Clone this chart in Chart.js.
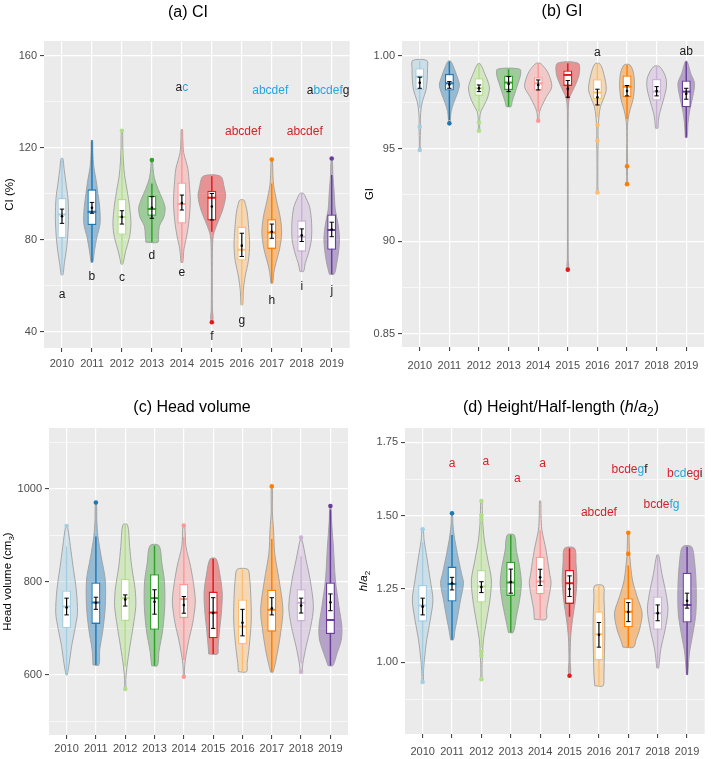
<!DOCTYPE html>
<html>
<head>
<meta charset="utf-8">
<title>Violin plots by year</title>
<style>
  html, body { margin: 0; padding: 0; background: #fff; }
  #wrap { position: relative; width: 711px; height: 759px; overflow: hidden; }
  #wrap canvas { position: absolute; }
</style>
<script src="https://cdn.jsdelivr.net/npm/chart.js@4.4.1/dist/chart.umd.min.js"></script>
</head>
<body>
<div id="wrap">
  <canvas id="ci" width="356" height="380" style="left:0;top:0;width:356px;height:380px"></canvas>
  <canvas id="gi" width="356" height="380" style="left:355px;top:0;width:356px;height:380px"></canvas>
  <canvas id="hv" width="356" height="379" style="left:0;top:380px;width:356px;height:379px"></canvas>
  <canvas id="ha" width="356" height="379" style="left:355px;top:380px;width:356px;height:379px"></canvas>
</div>
<script>
(function () {
  'use strict';

  // ── Shared categories / palette ───────────────────────────────────────────
  var YEARS  = ['2010', '2011', '2012', '2013', '2014', '2015', '2016', '2017', '2018', '2019'];
  var COLORS = ['#A6CEE3', '#1F78B4', '#B2DF8A', '#33A02C', '#FB9A99',
                '#E31A1C', '#FDBF6F', '#FF7F00', '#CAB2D6', '#6A3D9A'];
  var INK  = '#1A1A1A';
  var RED  = '#D2232A';
  var CYAN = '#22A7E0';

  // ── (a) CI ────────────────────────────────────────────────────────────────
  // violin outline: [value, half width in category units], bottom to top
  var CI_VIOLIN = [
    [[64.8,0.03],[70,0.08],[76,0.15],[83,0.2],[90,0.22],[98,0.2],[105,0.13],[111,0.07],[115.4,0.03]],
    [[70.3,0.03],[75,0.08],[81,0.16],[87,0.27],[94,0.26],[100,0.2],[105,0.15],[112,0.06],[118,0.03],[123.3,0.02]],
    [[69.5,0.03],[75,0.12],[81,0.25],[87,0.3],[94,0.26],[101,0.18],[108,0.09],[114,0.05],[120,0.03],[127,0.02]],
    [[79,0.2],[82,0.22],[86,0.25],[90,0.4],[94,0.44],[97.5,0.36],[102,0.21],[107,0.08],[111,0.04],[114.7,0.02]],
    [[70.2,0.03],[76,0.07],[83,0.18],[90,0.25],[97,0.28],[104,0.25],[111,0.2],[118,0.06],[124,0.03],[128,0.02]],
    [[44.2,0.02],[46.5,0.04],[49,0.02],[60,0.015],[75,0.02],[82,0.05],[87,0.18],[93,0.36],[99,0.46],[103,0.41],[107.7,0.29]],
    [[51.8,0.03],[58,0.05],[64,0.11],[71,0.22],[78,0.26],[85,0.23],[92,0.18],[95.5,0.12],[97.3,0.07]],
    [[61.2,0.03],[66,0.07],[70,0.14],[76,0.26],[83,0.33],[90,0.28],[97,0.16],[104,0.06],[108,0.04],[114.5,0.02]],
    [[66.3,0.06],[70,0.12],[74,0.22],[80,0.32],[87,0.33],[94,0.27],[98,0.15],[100.2,0.06]],
    [[65.1,0.08],[70,0.17],[76,0.24],[81,0.26],[87,0.21],[93,0.12],[101,0.08],[108,0.04],[114.5,0.02]]
  ];
  // [whisker low, q1, median, q3, whisker high]
  var CI_BOX = [
    [64.8, 80.7, 91, 98.3, 115.4], [70.3, 86.5, 92.3, 102, 123.3], [69.5, 82.2, 90, 97.8, 119],
    [79, 90.5, 93.4, 99.2, 104.5], [70.2, 87.1, 95.6, 105, 128], [83.6, 88.4, 98.3, 101.4, 107.7],
    [51.8, 71, 75.7, 85.8, 97.3], [61.2, 76.1, 83.2, 89, 104.5], [66.3, 74.9, 81.4, 88.5, 100.2],
    [65.1, 75.7, 84.3, 91.1, 108.2]
  ];
  var CI_MEAN = [90.3, 94, 90, 94, 96, 94.5, 77.5, 83.5, 82, 84.5];
  var CI_SE   = [[87.2,93.4],[91.6,96.3],[86.9,92.7],[89.4,98.8],[93,99.5],[88.7,100.2],[72.8,82.9],[80.7,86.9],[79.3,84.8],[81.4,87.7]];
  var CI_OUT  = [[], [], [127.5], [114.7], [], [44.2], [], [115], [], [115.4]];
  var CI_TICKS  = [40, 60, 80, 100, 120, 140, 160];
  var CI_MAJOR  = [40, 80, 120, 160];
  var CI_LABELS = ['40', '80', '120', '160'];
  var CI_LETTERS   = ['a', 'b', 'c', 'd', 'e', 'f', 'g', 'h', 'i', 'j'];
  var CI_LETTER_Y  = [56.2, 63.8, 63.4, 73.2, 65.8, 37.8, 45, 53.7, 59.5, 58];
  var CI_GROUP_X   = [5, 7.04, 7.95, 9.1, 9.88];
  var CI_GROUP_Y   = [146, 127, 144.7, 127, 144.7];
  var CI_GROUP_TXT = [
    [['a', '', INK], ['c', '', CYAN]],
    [['abcdef', '', RED]],
    [['abcdef', '', CYAN]],
    [['abcdef', '', RED]],
    [['a', '', INK], ['bcdef', '', CYAN], ['g', '', INK]]
  ];

  // ── (b) GI ────────────────────────────────────────────────────────────────
  var GI_VIOLIN = [
    [[0.9492,0.02],[0.953,0.012],[0.961,0.025],[0.966,0.02],[0.972,0.05],[0.976,0.1],[0.9815,0.21],[0.987,0.25],[0.993,0.26],[0.9975,0.24]],
    [[0.9636,0.02],[0.9654,0.03],[0.97,0.06],[0.9744,0.14],[0.9798,0.27],[0.9843,0.34],[0.987,0.3],[0.9924,0.18],[0.997,0.05]],
    [[0.9596,0.02],[0.964,0.02],[0.967,0.03],[0.97,0.06],[0.9726,0.15],[0.978,0.3],[0.9834,0.35],[0.9906,0.19],[0.9957,0.04]],
    [[0.9726,0.08],[0.9753,0.12],[0.9798,0.21],[0.9852,0.32],[0.9895,0.4],[0.9928,0.38]],
    [[0.965,0.02],[0.968,0.03],[0.97,0.05],[0.9726,0.11],[0.978,0.28],[0.9834,0.46],[0.9906,0.34],[0.9945,0.17],[0.996,0.06]],
    [[0.8847,0.02],[0.887,0.03],[0.89,0.015],[0.93,0.012],[0.97,0.015],[0.977,0.05],[0.9807,0.15],[0.9852,0.28],[0.9906,0.39],[0.996,0.35]],
    [[0.9263,0.02],[0.93,0.015],[0.945,0.015],[0.954,0.025],[0.96,0.02],[0.967,0.05],[0.9726,0.1],[0.9762,0.19],[0.982,0.3],[0.9906,0.21],[0.9957,0.08]],
    [[0.9308,0.02],[0.935,0.012],[0.94,0.02],[0.95,0.012],[0.962,0.015],[0.966,0.04],[0.9708,0.1],[0.9762,0.2],[0.9834,0.25],[0.9906,0.22],[0.9951,0.1]],
    [[0.961,0.04],[0.965,0.06],[0.969,0.1],[0.9762,0.23],[0.9834,0.33],[0.9888,0.3],[0.9942,0.1]],
    [[0.956,0.03],[0.9636,0.06],[0.9708,0.12],[0.978,0.22],[0.9852,0.28],[0.9906,0.15],[0.997,0.03]]
  ];
  var GI_BOX = [
    [0.9717, 0.9816, 0.9888, 0.9933, 0.9975], [0.9654, 0.9813, 0.9852, 0.9903, 0.997],
    [0.97, 0.9784, 0.9825, 0.9879, 0.9957], [0.9726, 0.9816, 0.9856, 0.9894, 0.9928],
    [0.97, 0.9813, 0.9852, 0.9885, 0.996], [0.977, 0.9838, 0.9897, 0.9921, 0.996],
    [0.967, 0.9766, 0.9802, 0.9874, 0.9957], [0.966, 0.9777, 0.9834, 0.9894, 0.9951],
    [0.961, 0.9759, 0.9807, 0.9876, 0.9942], [0.956, 0.9723, 0.9807, 0.9867, 0.997]
  ];
  var GI_MEAN = [0.9855, 0.9845, 0.9825, 0.9848, 0.9843, 0.9822, 0.9777, 0.981, 0.981, 0.9795];
  var GI_SE   = [[0.9825,0.9885],[0.9825,0.9861],[0.9807,0.9843],[0.9807,0.9888],[0.9816,0.987],
                 [0.9777,0.9867],[0.9735,0.982],[0.9784,0.984],[0.9784,0.9834],[0.9766,0.9825]];
  var GI_OUT  = [[0.9618, 0.9492], [0.9636], [0.964, 0.9596], [], [0.965], [0.8847],
                 [0.9627, 0.9542, 0.9263], [0.9405, 0.9308], [], []];
  var GI_TICKS  = [0.85, 0.875, 0.9, 0.925, 0.95, 0.975, 1.0];
  var GI_MAJOR  = [0.85, 0.9, 0.95, 1.0];
  var GI_LABELS = ['0.85', '90', '95', '1.00'];
  var GI_GROUP_X   = [7, 10];
  var GI_GROUP_Y   = [1.0016, 1.002];
  var GI_GROUP_TXT = [[['a', '', INK]], [['ab', '', INK]]];

  // ── (c) Head volume ───────────────────────────────────────────────────────
  var HV_VIOLIN = [
    [[600,0.02],[625,0.09],[661,0.17],[697,0.28],[733,0.37],[783,0.33],[833,0.22],[876,0.13],[919,0.03]],
    [[621.5,0.1],[654,0.13],[697,0.24],[747,0.32],[804,0.32],[854.5,0.18],[897.5,0.07],[933,0.03],[968,0.02]],
    [[570,0.02],[590,0.02],[618,0.06],[661,0.16],[704,0.27],[747,0.36],[783,0.34],[833,0.22],[876,0.15],[922.6,0.08]],
    [[620,0.1],[650,0.15],[697,0.28],[750,0.35],[800,0.34],[840,0.25],[878,0.15]],
    [[596,0.02],[610,0.02],[632,0.05],[675,0.17],[711,0.3],[754,0.39],[783,0.36],[833,0.23],[876,0.07],[920,0.03]],
    [[645,0.15],[661,0.17],[697,0.22],[733,0.28],[776,0.31],[819,0.22],[849.5,0.1]],
    [[607,0.14],[625,0.16],[661,0.23],[718,0.3],[776,0.28],[810,0.24],[827,0.18]],
    [[606,0.04],[647,0.19],[690,0.3],[740,0.38],[804,0.25],[861,0.1],[912,0.06],[950,0.02],[1000,0.02]],
    [[607,0.03],[625,0.06],[661,0.17],[704,0.33],[747,0.42],[804,0.31],[847,0.17],[890,0.03]],
    [[620,0.08],[647,0.23],[675,0.37],[704,0.39],[747,0.29],[804,0.17],[877,0.1],[930,0.04],[960,0.02]]
  ];
  var HV_BOX = [
    [600, 700.4, 747, 781.4, 876], [621.5, 709.7, 755.6, 798.6, 897.5], [618, 716, 765, 806.5, 922.6],
    [620, 697, 765, 816.5, 878], [632, 722, 763, 795.7, 897], [645, 679, 734, 779, 849.5],
    [607, 666, 704, 762, 827], [607, 693, 740, 783, 892], [625, 715, 755, 784, 855],
    [620, 688, 718, 798.6, 955]
  ];
  var HV_MEAN = [745, 755, 762, 757, 750, 733, 712, 743, 749, 756];
  var HV_SE   = [[729,765],[741,767],[748,772],[730.5,783],[732.6,768.5],[700,766],[684,741],[729,766],[733,765],[738,774]];
  var HV_OUT  = [[920], [970.6], [570], [], [921, 596], [], [], [1005], [895, 607], [963]];
  var HV_TICKS  = [500, 600, 700, 800, 900, 1000, 1100];
  var HV_MAJOR  = [600, 800, 1000];
  var HV_LABELS = ['600', '800', '1000'];

  // ── (d) Height / half-length ──────────────────────────────────────────────
  var HA_VIOLIN = [
    [[0.933,0.02],[0.97,0.03],[1.009,0.06],[1.077,0.14],[1.145,0.26],[1.213,0.35],[1.281,0.26],[1.36,0.14],[1.417,0.05],[1.4535,0.02]],
    [[1.077,0.05],[1.11,0.1],[1.145,0.17],[1.213,0.29],[1.27,0.39],[1.304,0.32],[1.372,0.18],[1.434,0.07],[1.474,0.03],[1.5,0.02]],
    [[0.943,0.02],[0.98,0.02],[1.032,0.04],[1.077,0.07],[1.145,0.18],[1.213,0.29],[1.281,0.34],[1.349,0.22],[1.417,0.1],[1.485,0.04],[1.55,0.02]],
    [[1.102,0.08],[1.156,0.19],[1.213,0.3],[1.27,0.36],[1.327,0.3],[1.383,0.19],[1.434,0.12]],
    [[1.147,0.2],[1.18,0.22],[1.213,0.28],[1.27,0.37],[1.304,0.32],[1.383,0.2],[1.451,0.06],[1.5,0.03],[1.55,0.02]],
    [[0.9545,0.02],[0.975,0.04],[1.0,0.02],[1.05,0.025],[1.088,0.04],[1.145,0.1],[1.213,0.2],[1.281,0.25],[1.338,0.22],[1.389,0.17]],
    [[0.9205,0.14],[0.96,0.17],[1.0,0.18],[1.1,0.2],[1.17,0.19],[1.22,0.17],[1.261,0.15]],
    [[1.052,0.18],[1.077,0.26],[1.111,0.38],[1.168,0.47],[1.224,0.3],[1.281,0.14],[1.361,0.05],[1.41,0.03],[1.442,0.02]],
    [[0.981,0.03],[1.043,0.1],[1.111,0.25],[1.179,0.35],[1.236,0.28],[1.304,0.14],[1.366,0.03]],
    [[0.958,0.02],[1.032,0.08],[1.1,0.2],[1.168,0.3],[1.259,0.31],[1.349,0.25],[1.3945,0.15]]
  ];
  var HA_BOX = [
    [0.96, 1.139, 1.194, 1.264, 1.41], [1.077, 1.2075, 1.2675, 1.3265, 1.434],
    [1.05, 1.204, 1.2585, 1.315, 1.48], [1.102, 1.2267, 1.272, 1.3435, 1.434],
    [1.147, 1.2324, 1.2755, 1.3605, 1.45], [1.156, 1.1995, 1.27, 1.315, 1.389],
    [0.9205, 1.007, 1.096, 1.1735, 1.261], [1.052, 1.12, 1.173, 1.219, 1.33],
    [0.981, 1.111, 1.168, 1.2245, 1.366], [0.958, 1.136, 1.196, 1.306, 1.3945]
  ];
  var HA_MEAN = [1.19, 1.27, 1.257, 1.274, 1.29, 1.25, 1.094, 1.172, 1.168, 1.21];
  var HA_SE   = [[1.162,1.219],[1.247,1.29],[1.238,1.275],[1.236,1.318],[1.262,1.3175],
                 [1.2245,1.295],[1.052,1.136],[1.139,1.204],[1.142,1.196],[1.185,1.236]];
  var HA_OUT  = [[1.4535, 0.933], [1.508], [1.55, 1.502, 1.4875, 1.0373, 1.0226, 0.943], [], [],
                 [0.9545], [], [1.442, 1.37], [], []];
  var HA_TICKS  = [0.875, 1.0, 1.125, 1.25, 1.375, 1.5, 1.625, 1.75];
  var HA_MAJOR  = [1.0, 1.25, 1.5, 1.75];
  var HA_LABELS = ['1.00', '1.25', '1.50', '1.75'];
  var HA_GROUP_X   = [2, 3.15, 4.22, 5.08, 7, 8.04, 9.13, 9.92];
  var HA_GROUP_Y   = [1.676, 1.684, 1.627, 1.676, 1.51, 1.657, 1.536, 1.642];
  var HA_GROUP_TXT = [
    [['a', '', RED]], [['a', '', RED]], [['a', '', RED]], [['a', '', RED]],
    [['abcdef', '', RED]],
    [['bcde', '', RED], ['g', '', CYAN], ['f', '', INK]],
    [['bcde', '', RED], ['fg', '', CYAN]],
    [['b', '', RED], ['cd', '', CYAN], ['eg', '', RED], ['i', '', INK]]
  ];

  // ── Helpers ───────────────────────────────────────────────────────────────
  var FONT = '"Liberation Sans", Arial, Helvetica, sans-serif';
  Chart.defaults.font.family = FONT;

  function rgba(hex, a) {
    var n = parseInt(hex.slice(1), 16);
    return 'rgba(' + (n >> 16) + ',' + ((n >> 8) & 255) + ',' + (n & 255) + ',' + a + ')';
  }

  function indexOfTick(v, list) {
    for (var i = 0; i < list.length; i++) {
      if (Math.abs(list[i] - v) < 1e-9) { return i; }
    }
    return -1;
  }

  function segFont(s, size) {
    var st = s[1] || '';
    var sz = st.indexOf('s') >= 0 ? Math.round(size * 0.72) : size;
    return (st.indexOf('i') >= 0 ? 'italic ' : '') + sz + 'px ' + FONT;
  }

  // draws a run of text pieces [text, style, colour] centred on x
  function drawSegs(ctx, segs, x, y, size, color) {
    var w = 0;
    segs.forEach(function (s) { ctx.font = segFont(s, size); w += ctx.measureText(s[0]).width; });
    var cx = x - w / 2;
    ctx.textAlign = 'left';
    ctx.textBaseline = 'middle';
    segs.forEach(function (s) {
      ctx.font = segFont(s, size);
      ctx.fillStyle = s[2] || color;
      var dy = (s[1] || '').indexOf('s') >= 0 ? size * 0.3 : 0;
      ctx.fillText(s[0], cx, y + dy);
      cx += ctx.measureText(s[0]).width;
    });
  }

  // ── Panel background, titles and letter annotations ───────────────────────
  var decor = {
    id: 'decor',
    beforeDraw: function (chart) {
      var a = chart.chartArea, ctx = chart.ctx;
      ctx.save();
      ctx.fillStyle = '#EBEBEB';
      ctx.fillRect(a.left, a.top, a.right - a.left, a.bottom - a.top);
      ctx.restore();
    },
    afterDatasetsDraw: function (chart, args, o) {
      var ctx = chart.ctx, sx = chart.scales.x, sy = chart.scales.y;
      ctx.save();
      (o.letters || []).forEach(function (t, i) {
        drawSegs(ctx, [[t]], sx.getPixelForValue(i + 1), sy.getPixelForValue(o.letterY[i]), 12, INK);
      });
      (o.groupText || []).forEach(function (segs, i) {
        drawSegs(ctx, segs, sx.getPixelForValue(o.groupX[i]), sy.getPixelForValue(o.groupY[i]), 12, INK);
      });
      ctx.restore();
    },
    afterDraw: function (chart, args, o) {
      var ctx = chart.ctx, a = chart.chartArea;
      ctx.save();
      drawSegs(ctx, o.title, o.titleX, o.titleY, 16, '#000');
      ctx.translate(o.yTitleX, (a.top + a.bottom) / 2);
      ctx.rotate(-Math.PI / 2);
      drawSegs(ctx, o.yTitle, 0, 0, 11.5, '#000');
      ctx.restore();
    }
  };

  // ── Datasets: violin, whisker, box, median, mean ± SE, outliers ───────────
  function buildDatasets(violin, box, mean, se, out) {
    var ds = [];
    violin.forEach(function (prof, i) {
      var c = i + 1;
      var left  = prof.map(function (p) { return { x: c - p[1], y: p[0] }; });
      var right = prof.slice().reverse().map(function (p) { return { x: c + p[1], y: p[0] }; });
      ds.push({
        type: 'line', data: left.concat(right, [left[0]]),
        fill: 'shape', backgroundColor: rgba(COLORS[i], 0.42),
        borderColor: '#9E9E9E', borderWidth: 0.9, pointRadius: 0, tension: 0.3, order: 10
      });
    });
    ds.push({
      type: 'bar', grouped: false, order: 9,
      data: box.map(function (b, i) { return { x: i + 1, y: [b[0], b[4]] }; }),
      backgroundColor: COLORS, barThickness: 1.5, inflateAmount: 0, borderWidth: 0
    });
    ds.push({
      type: 'bar', grouped: false, order: 8,
      data: box.map(function (b, i) { return { x: i + 1, y: [b[1], b[3]] }; }),
      backgroundColor: '#FFFFFF', borderColor: COLORS, borderWidth: 1.3,
      borderSkipped: false, barThickness: 9, inflateAmount: 0
    });
    ds.push({
      type: 'scatter', order: 7,
      data: box.map(function (b, i) { return { x: i + 1, y: b[2] }; }),
      pointStyle: 'line', pointRadius: 4.3, pointBorderColor: COLORS, pointBorderWidth: 2
    });
    ds.push({
      type: 'bar', grouped: false, order: 6,
      data: se.map(function (s, i) { return { x: i + 1, y: [s[0], s[1]] }; }),
      backgroundColor: '#000000', barThickness: 1.2, inflateAmount: 0, borderWidth: 0
    });
    var caps = [];
    se.forEach(function (s, i) { caps.push({ x: i + 1, y: s[0] }, { x: i + 1, y: s[1] }); });
    ds.push({
      type: 'scatter', order: 5, data: caps,
      pointStyle: 'line', pointRadius: 2.2, pointBorderColor: '#000000', pointBorderWidth: 1
    });
    ds.push({
      type: 'scatter', order: 4,
      data: mean.map(function (m, i) { return { x: i + 1, y: m }; }),
      pointRadius: 1.3, pointBackgroundColor: '#000000', pointBorderWidth: 0
    });
    var pts = [], cols = [];
    out.forEach(function (list, i) {
      list.forEach(function (v) { pts.push({ x: i + 1, y: v }); cols.push(COLORS[i]); });
    });
    ds.push({
      type: 'scatter', order: 3, data: pts,
      pointRadius: 2.3, pointBackgroundColor: cols, pointBorderColor: cols, pointBorderWidth: 0
    });
    return ds;
  }

  // ── One ggplot-like panel ─────────────────────────────────────────────────
  function makePanel(id, p) {
    var canvas = document.getElementById(id);
    return new Chart(canvas, {
      type: 'scatter',
      data: { datasets: buildDatasets(p.violin, p.box, p.mean, p.se, p.out) },
      options: {
        responsive: false,
        animation: false,
        devicePixelRatio: 1,
        events: [],
        layout: { padding: { left: 0, top: p.area.top, right: canvas.width - p.area.right, bottom: 0 } },
        plugins: {
          legend: { display: false },
          tooltip: { enabled: false },
          decor: {
            title: p.title, titleX: p.titleX, titleY: p.titleY,
            yTitle: p.yTitle, yTitleX: p.yTitleX,
            letters: p.letters, letterY: p.letterY,
            groupText: p.groupText, groupX: p.groupX, groupY: p.groupY
          }
        },
        scales: {
          x: {
            type: 'linear', min: 0.4, max: 10.6, offset: false,
            afterBuildTicks: function (s) { s.ticks = YEARS.map(function (y, i) { return { value: i + 1 }; }); },
            afterFit: function (s) { s.height = canvas.height - p.area.bottom; },
            ticks: {
              autoSkip: false, maxRotation: 0, minRotation: 0, padding: p.xPad,
              color: '#4D4D4D', font: { size: 11 },
              callback: function (v) { return YEARS[Math.round(v) - 1]; }
            },
            grid: { offset: false, color: '#FFFFFF', lineWidth: 1.2, tickColor: '#333333', tickLength: 4, tickWidth: 1 },
            border: { display: false }
          },
          y: {
            type: 'linear', min: p.yMin, max: p.yMax, offset: false, beginAtZero: false,
            afterBuildTicks: function (s) { s.ticks = p.ticks.map(function (v) { return { value: v }; }); },
            afterFit: function (s) { s.width = p.area.left; },
            ticks: {
              autoSkip: false, padding: 3, color: '#4D4D4D', font: { size: 11 },
              callback: function (v) {
                var k = indexOfTick(v, p.major);
                return k >= 0 ? p.labels[k] : '';
              }
            },
            grid: {
              offset: false,
              color: '#FFFFFF',
              lineWidth: function (c) { return indexOfTick(c.tick.value, p.major) >= 0 ? 1.2 : 0.6; },
              tickColor: function (c) { return indexOfTick(c.tick.value, p.major) >= 0 ? '#333333' : 'rgba(0,0,0,0)'; },
              tickLength: 4, tickWidth: 1
            },
            border: { display: false }
          }
        }
      },
      plugins: [decor]
    });
  }

  makePanel('ci', {
    violin: CI_VIOLIN, box: CI_BOX, mean: CI_MEAN, se: CI_SE, out: CI_OUT,
    ticks: CI_TICKS, major: CI_MAJOR, labels: CI_LABELS, yMin: 33, yMax: 166.5,
    area: { left: 44, top: 41, right: 350, bottom: 348 }, xPad: 5,
    title: [['(a) CI']], titleX: 188, titleY: 13,
    yTitle: [['CI (%)']], yTitleX: 10,
    letters: CI_LETTERS, letterY: CI_LETTER_Y,
    groupText: CI_GROUP_TXT, groupX: CI_GROUP_X, groupY: CI_GROUP_Y
  });

  makePanel('gi', {
    violin: GI_VIOLIN, box: GI_BOX, mean: GI_MEAN, se: GI_SE, out: GI_OUT,
    ticks: GI_TICKS, major: GI_MAJOR, labels: GI_LABELS, yMin: 0.843, yMax: 1.008,
    area: { left: 47, top: 41, right: 349, bottom: 347 }, xPad: 8,
    title: [['(b) GI']], titleX: 207, titleY: 12,
    yTitle: [['GI']], yTitleX: 15,
    groupText: GI_GROUP_TXT, groupX: GI_GROUP_X, groupY: GI_GROUP_Y
  });

  makePanel('hv', {
    violin: HV_VIOLIN, box: HV_BOX, mean: HV_MEAN, se: HV_SE, out: HV_OUT,
    ticks: HV_TICKS, major: HV_MAJOR, labels: HV_LABELS, yMin: 471, yMax: 1130.5,
    area: { left: 49, top: 48, right: 348, bottom: 355 }, xPad: 3,
    title: [['(c) Head volume']], titleX: 192, titleY: 28,
    yTitle: [['Head volume (cm'], ['3', 's'], [')']], yTitleX: 8
  });

  makePanel('ha', {
    violin: HA_VIOLIN, box: HA_BOX, mean: HA_MEAN, se: HA_SE, out: HA_OUT,
    ticks: HA_TICKS, major: HA_MAJOR, labels: HA_LABELS, yMin: 0.756, yMax: 1.799,
    area: { left: 50, top: 48, right: 352, bottom: 354 }, xPad: 7,
    title: [['(d) Height/Half-length ('], ['h', 'i'], ['/'], ['a', 'i'], ['2', 's'], [')']], titleX: 206, titleY: 28,
    yTitle: [['h', 'i'], ['/'], ['a', 'i'], ['2', 's']], yTitleX: 9,
    groupText: HA_GROUP_TXT, groupX: HA_GROUP_X, groupY: HA_GROUP_Y
  });
}());
</script>
</body>
</html>
